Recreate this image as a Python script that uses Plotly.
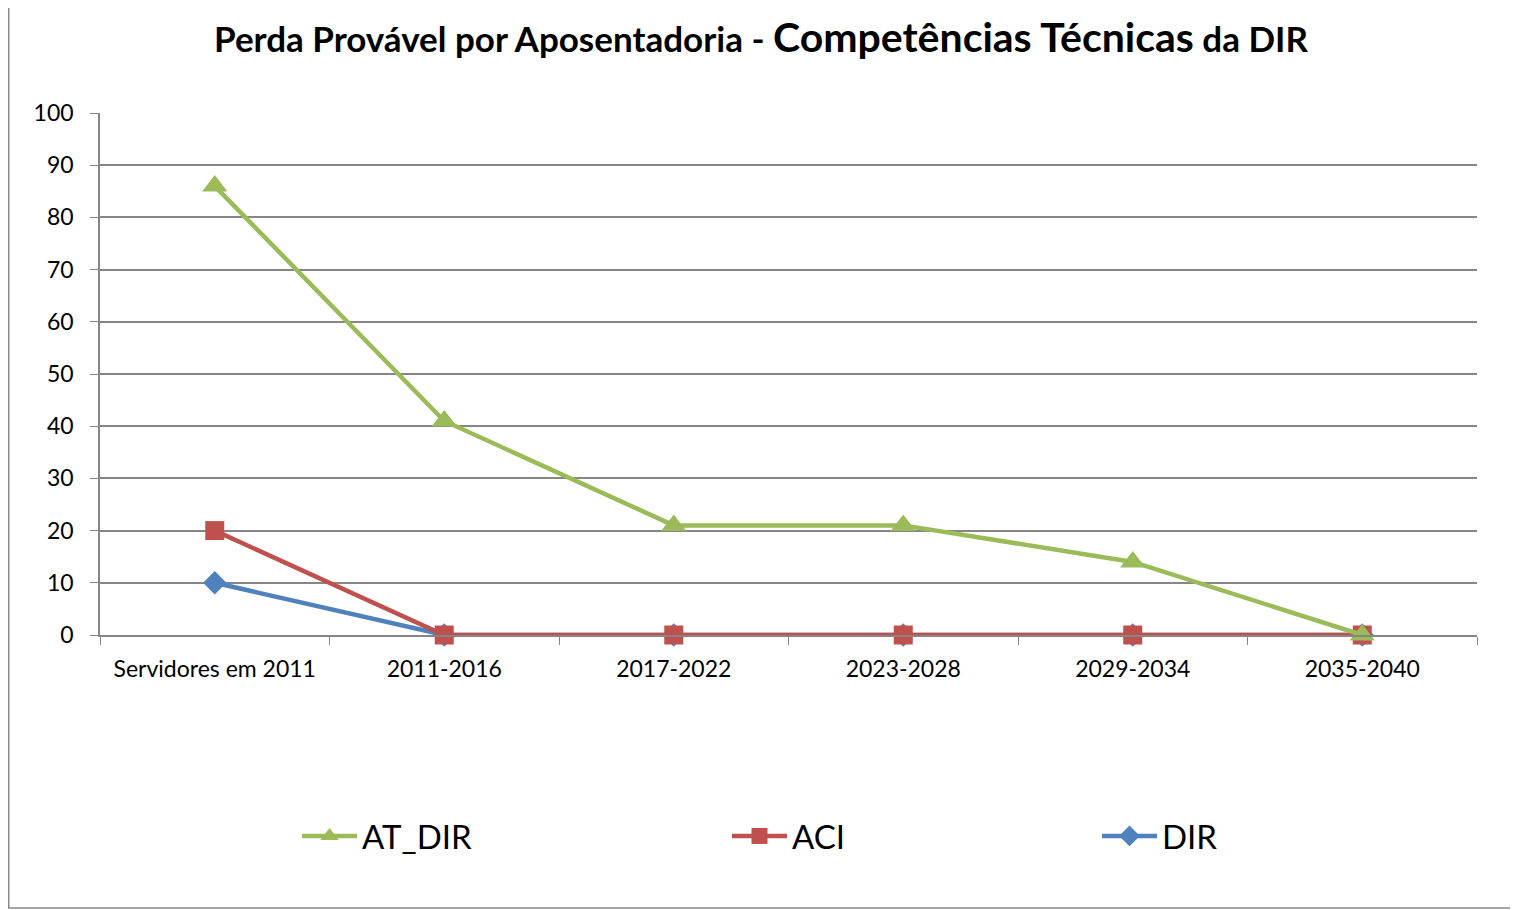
import plotly.graph_objects as go

categories = ["Servidores em 2011", "2011-2016", "2017-2022", "2023-2028", "2029-2034", "2035-2040"]
at_dir = [86, 41, 21, 21, 14, 0]
aci = [20, 0, 0, 0, 0, 0]
dir_ = [10, 0, 0, 0, 0, 0]
y_ticks = [0, 10, 20, 30, 40, 50, 60, 70, 80, 90, 100]

OFF = 8  # default body margin of the html page
W, H = 1518 - OFF, 910 - OFF
L, R, T, B = 100 - OFF, 1477 - OFF, 113 - OFF, 635 - OFF
pw, ph = R - L, B - T

def px_x(x):
    return (x - OFF - L) / pw

def px_y(y):
    return (B - (y - OFF)) / ph

FONT = "Lato, Open Sans, sans-serif"

fig = go.Figure()
fig.add_trace(go.Scatter(x=categories, y=dir_, name="DIR", mode="lines+markers",
                         line=dict(color="#4F81BD", width=4.5),
                         marker=dict(symbol="diamond", size=18, color="#4F81BD"),
                         cliponaxis=False, legend="legend3", showlegend=True))
fig.add_trace(go.Scatter(x=categories, y=aci, name="ACI", mode="lines+markers",
                         line=dict(color="#C0504D", width=4.5),
                         marker=dict(symbol="square", size=19, color="#C0504D"),
                         cliponaxis=False, legend="legend2", showlegend=True))
fig.add_trace(go.Scatter(x=categories, y=at_dir, name="AT_DIR", mode="lines+markers",
                         line=dict(color="#9BBB59", width=4.5),
                         marker=dict(symbol="triangle-up", size=22, color="#9BBB59"),
                         cliponaxis=False, legend="legend", showlegend=True))

def leg(xpix):
    return dict(
        orientation="h", x=px_x(xpix), xanchor="left", y=px_y(836), yanchor="middle",
        font=dict(size=33, family=FONT, color="black"),
        bgcolor="rgba(0,0,0,0)", itemwidth=55,
    )

fig.update_layout(
    width=W, height=H, autosize=False, showlegend=True,
    margin=dict(l=L, r=W - R, t=T, b=H - B, pad=0),
    paper_bgcolor="white", plot_bgcolor="white",
    font=dict(family=FONT, color="black"),
    title=dict(
        text="<b>Perda Provável por Aposentadoria - <span style='font-size:41px'>Competências Técnicas</span> da DIR</b>",
        x=(761 - OFF) / W, xanchor="center", xref="container",
        y=1 - (40 - OFF) / H, yanchor="middle", yref="container",
        font=dict(size=35, family=FONT, color="black"),
    ),
    xaxis=dict(
        type="category", range=[-0.5, 5.5],
        showgrid=False, showline=True, linecolor="#868686", linewidth=1.5,
        ticks="outside", tickson="boundaries", ticklen=8, tickcolor="#868686",
        tickfont=dict(size=23, family=FONT, color="black"),
        ticklabelstandoff=13,
        fixedrange=True,
    ),
    yaxis=dict(
        range=[0, 100], tickvals=y_ticks,
        showgrid=True, gridcolor="#868686", gridwidth=1.5,
        showline=True, linecolor="#868686", linewidth=1.5,
        ticks="outside", ticklen=8, tickcolor="#868686",
        tickfont=dict(size=23, family=FONT, color="black"),
        ticklabelstandoff=12,
        zeroline=False, fixedrange=True,
    ),
    legend=leg(297),
    legend2=leg(727),
    legend3=leg(1097),
    shapes=[dict(type="rect", xref="paper", yref="paper",
                 x0=(0.75 - L) / pw, x1=(W - 1 - L) / pw,
                 y0=px_y(908), y1=(B + 1) / ph,
                 line=dict(color="#898989", width=1.5), fillcolor="rgba(0,0,0,0)",
                 layer="below")],
)

fig.write_html("out.html")
